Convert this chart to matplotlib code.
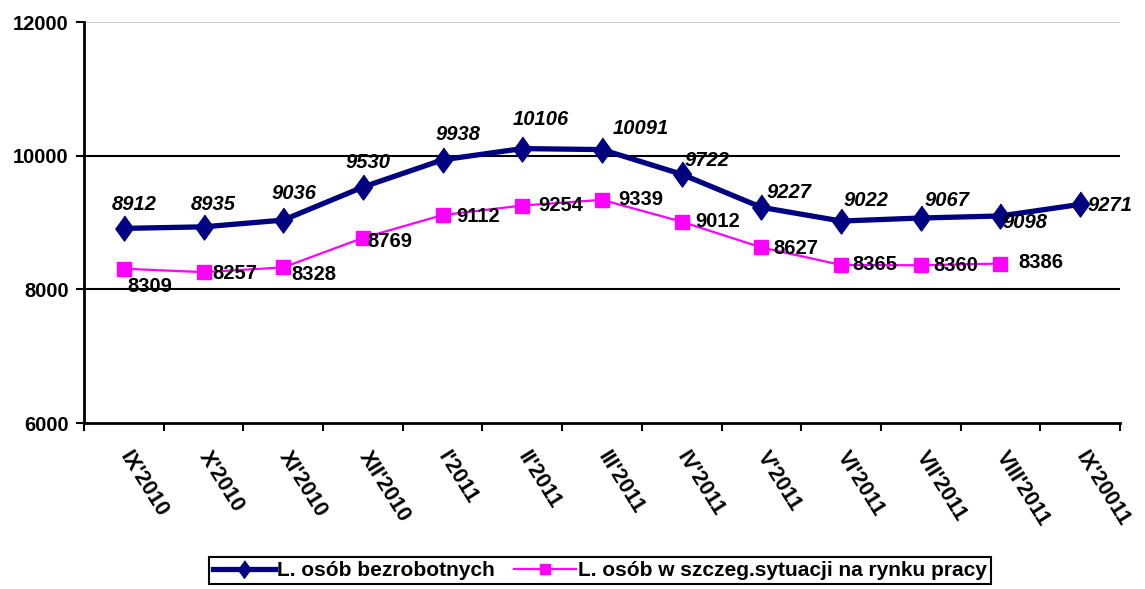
import matplotlib
matplotlib.use('Agg')
import matplotlib.pyplot as plt
from matplotlib.transforms import ScaledTranslation

plt.rcParams['font.family'] = ['Liberation Sans', 'DejaVu Sans']

months = ["IX'2010", "X'2010", "XI'2010", "XII'2010", "I'2011", "II'2011", "III'2011",
          "IV'2011", "V'2011", "VI'2011", "VII'2011", "VIII'2011", "IX'20011"]
bezrobotni = [8912, 8935, 9036, 9530, 9938, 10106, 10091, 9722, 9227, 9022, 9067, 9098, 9271]
szczeg = [8309, 8257, 8328, 8769, 9112, 9254, 9339, 9012, 8627, 8365, 8360, 8386]

# label offsets in pixels (dx, dy)
off_b = [(10, 24), (10, 22), (11, 27), (5, 25), (15, 25), (18, 29), (39, 21), (25, 14),
         (28, 15), (25, 21), (26, 18), (25, -7), (30, -1)]
off_s = [(26, -18), (31, -1), (31, -7), (27, -4), (35, -1), (38, 0), (39, 0), (36, 0),
         (34, -1), (34, 0), (35, 0), (40, 1)]

NAVY = '#000080'
PINK = '#ff00ff'

fig = plt.figure(figsize=(11.45, 5.89), dpi=100)
ax = fig.add_axes([84/1145, 1 - 423/589, (1120 - 84)/1145, (423 - 22)/589])

x = list(range(len(months)))
diamond = [(0, 1), (0.72, 0), (0, -1), (-0.72, 0)]
ax.plot(x, bezrobotni, color=NAVY, lw=3.8, marker=diamond, ms=18,
        label='L. osób bezrobotnych', zorder=4)
ax.plot(x[:len(szczeg)], szczeg, color=PINK, lw=1.6, marker='s', ms=10.5,
        label='L. osób w szczeg.sytuacji na rynku pracy', zorder=3)

for i, v in enumerate(bezrobotni):
    ax.annotate(str(v), (i, v), xytext=off_b[i], textcoords='offset pixels',
                ha='center', va='center', fontsize=14.5, fontweight='bold',
                fontstyle='italic', color='black', zorder=5)
for i, v in enumerate(szczeg):
    ax.annotate(str(v), (i, v), xytext=off_s[i], textcoords='offset pixels',
                ha='center', va='center', fontsize=14.5, fontweight='bold',
                color='black', zorder=5)

ax.set_xlim(-0.5, len(months) - 0.5)
ax.set_ylim(6000, 12000)
ax.set_yticks([6000, 8000, 10000, 12000])
ax.set_yticklabels(['6000', '8000', '10000', '12000'], fontsize=14.5, fontweight='bold')
ax.set_xticks(x)
ax.set_xticks([i - 0.5 for i in range(len(months) + 1)], minor=True)
ax.tick_params(axis='x', which='major', length=0, pad=18)
ax.tick_params(axis='x', which='minor', length=6, width=1.5, direction='out')
ax.tick_params(axis='y', length=6, width=1.5, direction='out', pad=5)
ax.set_xticklabels(months, rotation=-58, ha='left', va='top', rotation_mode='anchor',
                   fontsize=15.5, fontweight='bold')
# nudge the slanted month labels to the right
shift = ScaledTranslation(9/100, 0, fig.dpi_scale_trans)
for lab in ax.get_xticklabels():
    lab.set_transform(lab.get_transform() + shift)

for yv in (8000, 10000):
    ax.axhline(yv, color='black', lw=1.5, zorder=1)
ax.axhline(12000, color='#c0c0c0', lw=1.2, zorder=1)

for s in ('top', 'right'):
    ax.spines[s].set_visible(False)
ax.spines['left'].set_linewidth(2)
ax.spines['bottom'].set_linewidth(2)

leg = fig.legend(loc='upper center', bbox_to_anchor=(600/1145, 1 - 557/589), ncol=2,
                 frameon=True, fancybox=False, edgecolor='black', framealpha=1,
                 prop={'weight': 'bold', 'size': 15}, handlelength=3.0,
                 handletextpad=0.1, columnspacing=0.9, borderpad=0.2,
                 borderaxespad=0, markerscale=0.7)
leg.get_frame().set_linewidth(1.5)

fig.savefig('out.png', dpi=100)
